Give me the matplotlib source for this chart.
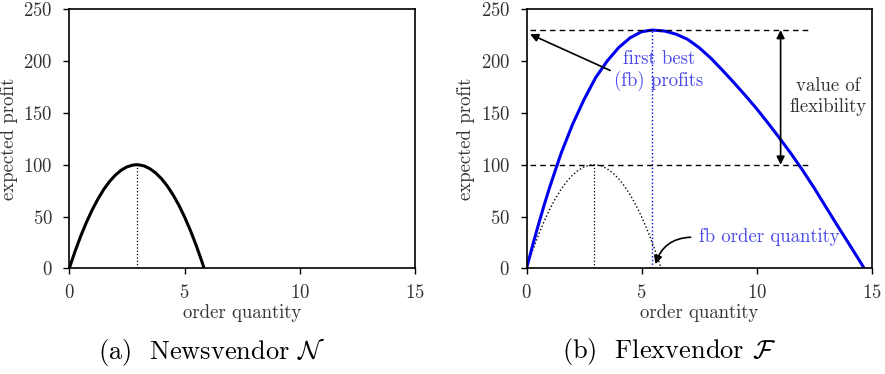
import matplotlib
matplotlib.use("Agg")
import matplotlib.pyplot as plt

plt.rcParams["font.family"] = ["cmr10", "DejaVu Serif"]
plt.rcParams["mathtext.fontset"] = "cm"
plt.rcParams["axes.formatter.use_mathtext"] = True
plt.rcParams["axes.unicode_minus"] = False

# newsvendor expected profit
nv_q = [0, 0.25, 0.5, 0.75, 1.0, 1.25, 1.5, 1.75, 2.0, 2.25, 2.5, 2.75, 2.925,
        3.0, 3.25, 3.5, 3.75, 4.0, 4.25, 4.5, 4.75, 5.0, 5.25, 5.5, 5.75, 5.85]
nv_profit = [0, 16.4, 31.3, 44.7, 56.7, 67.2, 76.3, 83.9, 90.0, 94.7, 97.9, 99.6, 100,
             99.9, 98.8, 96.1, 92.0, 86.5, 79.5, 71.0, 61.1, 49.7, 36.8, 22.5, 6.7, 0]
nv_opt_q = 2.92
nv_opt_profit = 100

# flexvendor expected profit (right panel)
fv_q = [0, 0.25, 0.5, 0.75, 1.0, 1.5, 2.0, 2.5, 3.0, 3.5, 4.0, 4.5, 5.0, 5.46,
        6.0, 6.5, 7.0, 7.5, 8.0, 8.5, 9.0, 9.5, 10.0, 10.5, 11.0, 11.5, 12.0,
        12.5, 13.0, 13.5, 14.0, 14.5, 14.67]
fv_profit = [0, 21, 41, 60, 78, 111, 139, 163, 184, 200, 213, 222.5, 228.4, 230,
             229, 226, 221, 213, 203, 191.5, 179.5, 167, 154, 140, 125.5, 110.5, 94.5,
             77.5, 59.5, 41.5, 24, 6.3, 0]
fb_q = 5.46
fb_profit = 230

blue = "#0000ee"
blue_txt = "#4a4aea"
grey_txt = "#333333"

fig = plt.figure(figsize=(8.85, 3.74), dpi=100)
ax1 = fig.add_axes([0.0783, 0.2826, 0.3906, 0.6925])
ax2 = fig.add_axes([0.595, 0.2826, 0.390, 0.6925])

for ax in (ax1, ax2):
    ax.set_xlim(0, 15)
    ax.set_ylim(0, 250)
    ax.set_xticks([0, 5, 10, 15])
    ax.set_yticks([0, 50, 100, 150, 200, 250])
    ax.tick_params(direction="out", length=4, width=1, labelsize=13.5,
                   labelcolor=grey_txt)
    ax.tick_params(axis="y", pad=8)
    ax.tick_params(axis="x", pad=7)
    for s in ax.spines.values():
        s.set_linewidth(1.2)
    ax.set_xlabel("order quantity", fontsize=13.5, color=grey_txt, labelpad=1.5)
    ax.set_ylabel("expected profit", fontsize=13.5, color=grey_txt, labelpad=4)

# (a) newsvendor
ax1.plot(nv_q, nv_profit, color="black", lw=2.2)
ax1.plot([nv_opt_q, nv_opt_q], [0, nv_opt_profit], color="black", lw=0.9, ls=":")

# (b) flexvendor
ax2.plot(nv_q, nv_profit, color="black", lw=1.0, ls=":")
ax2.plot([nv_opt_q, nv_opt_q], [0, nv_opt_profit], color="black", lw=0.9, ls=":")
ax2.plot(fv_q, fv_profit, color=blue, lw=2.2)
ax2.plot([fb_q, fb_q], [0, fb_profit], color=blue, lw=1.0, ls=":")
ax2.plot([0.15, 12.35], [fb_profit, fb_profit], color="black", lw=1.0, ls=(0, (4, 3)))
ax2.plot([0.15, 12.35], [nv_opt_profit, nv_opt_profit], color="black", lw=1.0, ls=(0, (4, 3)))

ax2.annotate("", xy=(0.15, 226), xytext=(3.63, 191),
             arrowprops=dict(arrowstyle="-|>", color="black", lw=1.2,
                             shrinkA=0, shrinkB=0, mutation_scale=12))
ax2.text(5.75, 191, "first best\n(fb) profits", color=blue_txt, fontsize=13.5,
         ha="center", va="center", linespacing=1.2)

ax2.annotate("", xy=(11.04, 100), xytext=(11.04, 230),
             arrowprops=dict(arrowstyle="<|-|>", color="black", lw=1.2,
                             shrinkA=0, shrinkB=0, mutation_scale=12))
ax2.text(13.1, 166, "value of\nflexibility", color=grey_txt, fontsize=13.5,
         ha="center", va="center", linespacing=1.25)

ax2.annotate("", xy=(5.6, 4), xytext=(7.13, 30),
             arrowprops=dict(arrowstyle="-|>", color="black", lw=1.2,
                             shrinkA=0, shrinkB=0, mutation_scale=12,
                             connectionstyle="arc3,rad=0.35"))
ax2.text(7.5, 30, "fb order quantity", color=blue_txt, fontsize=13.5,
         ha="left", va="center")

fig.text(0.2395, 0.059, r"(a)  Newsvendor $\mathcal{N}$", fontsize=19,
         ha="center", va="center")
fig.text(0.756, 0.059, r"(b)  Flexvendor $\mathcal{F}$", fontsize=19,
         ha="center", va="center")

fig.savefig("out.png", dpi=100)
